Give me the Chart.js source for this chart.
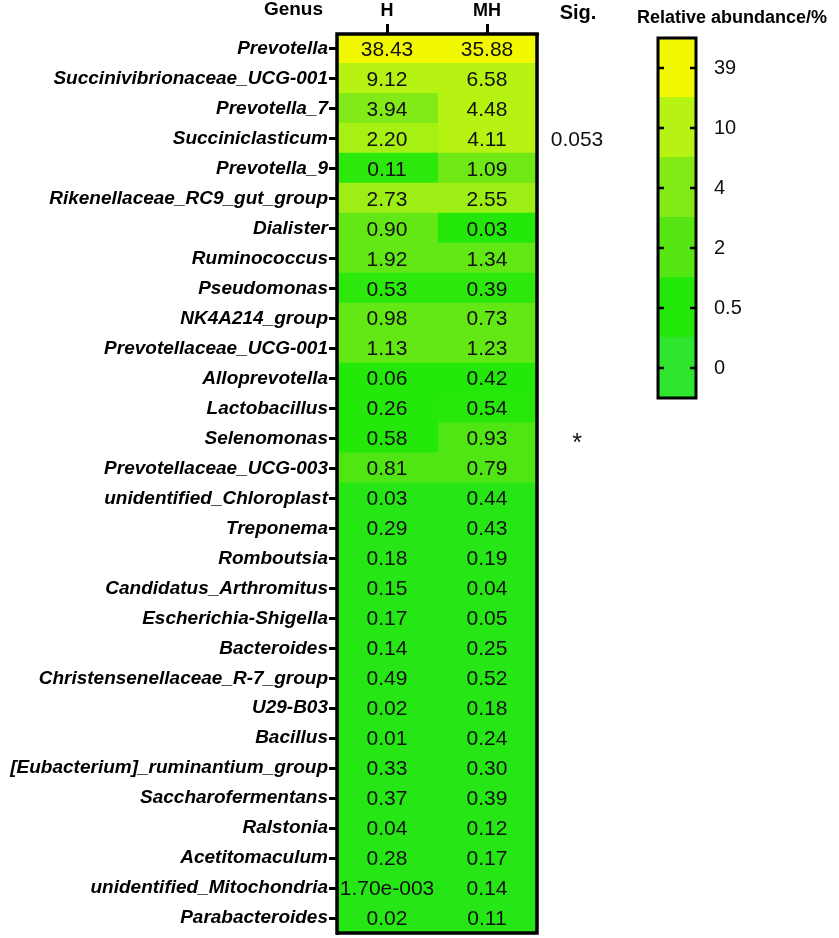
<!DOCTYPE html>
<html><head><meta charset="utf-8">
<script src="https://cdn.jsdelivr.net/npm/chart.js@4"></script>
<style>
html,body{margin:0;padding:0;background:#fff;}
#wrap{position:relative;width:839px;height:938px;overflow:hidden;}
</style></head><body>
<div id="wrap">
<canvas id="main" width="839" height="938" style="position:absolute;left:0;top:0"></canvas>
<canvas id="cbar" width="219" height="420" style="position:absolute;left:620px;top:0"></canvas>
</div>
<script>
const genera = ['Prevotella','Succinivibrionaceae_UCG-001','Prevotella_7','Succiniclasticum','Prevotella_9','Rikenellaceae_RC9_gut_group','Dialister','Ruminococcus','Pseudomonas','NK4A214_group','Prevotellaceae_UCG-001','Alloprevotella','Lactobacillus','Selenomonas','Prevotellaceae_UCG-003','unidentified_Chloroplast','Treponema','Romboutsia','Candidatus_Arthromitus','Escherichia-Shigella','Bacteroides','Christensenellaceae_R-7_group','U29-B03','Bacillus','[Eubacterium]_ruminantium_group','Saccharofermentans','Ralstonia','Acetitomaculum','unidentified_Mitochondria','Parabacteroides'];
const columns = ['H','MH'];
const hValues = [38.43,9.12,3.94,2.20,0.11,2.73,0.90,1.92,0.53,0.98,1.13,0.06,0.26,0.58,0.81,0.03,0.29,0.18,0.15,0.17,0.14,0.49,0.02,0.01,0.33,0.37,0.04,0.28,0.0017,0.02];
const mhValues = [35.88,6.58,4.48,4.11,1.09,2.55,0.03,1.34,0.39,0.73,1.23,0.42,0.54,0.93,0.79,0.44,0.43,0.19,0.04,0.05,0.25,0.52,0.18,0.24,0.30,0.39,0.12,0.17,0.14,0.11];
// colour level of each cell on the colour-bar scale (0 = bottom band, 5 = top band)
const hShade = [5,4,3,3.7,1.2,3.5,2.3,2.3,1.2,2.3,2.3,1,1,1,1.9,0.7,0.7,0.7,0.7,0.7,0.7,0.7,0.7,0.7,0.7,0.7,0.7,0.7,0.7,0.7];
const mhShade = [5,4,4,4,2.6,3.5,1,2.3,1.2,2.3,2.3,1,1.1,1.9,1.9,0.7,0.7,0.7,0.7,0.7,0.7,0.7,0.7,0.7,0.7,0.7,0.7,0.7,0.7,0.7];
const sigLabels = ['','','','0.053','','','','','','','','','','*','','','','','','','','','','','','','','','',''];
const legendTicks = ['0','0.5','2','4','10','39'];

const anchors = [[45,230,45],[35,232,10],[85,230,20],[130,234,22],[182,242,18],[242,248,0]];
function shadeColor(p){
  const i = Math.min(4, Math.floor(p)); const f = p - i;
  const a = anchors[i], b = anchors[i+1];
  const c = a.map((v,k)=>Math.round(v + (b[k]-v)*f));
  return `rgb(${c[0]},${c[1]},${c[2]})`;
}
function fmt(v){
  if (v < 0.01){
    const [m,e] = v.toExponential(2).split('e');
    const sign = e[0]==='-'?'-':'+';
    return m + 'e' + sign + String(Math.abs(+e)).padStart(3,'0');
  }
  return v.toFixed(2);
}
const FONT = "'Liberation Sans', Arial, sans-serif";

const textPlugin = {
  id:'cellText',
  afterDatasetsDraw(chart){
    const {ctx, scales:{x,y}} = chart;
    ctx.save();
    ctx.fillStyle = '#111';
    ctx.textAlign = 'center'; ctx.textBaseline = 'middle';
    const cols = [hValues, mhValues];
    genera.forEach((g,i)=>{
      const py = y.getPixelForValue(i);
      ctx.font = `21px ${FONT}`;
      cols.forEach((arr,c)=>{
        ctx.fillText(fmt(arr[i]), x.getPixelForValue(c+0.5), py+1);
      });
      if (sigLabels[i]){
        const star = sigLabels[i]==='*';
        ctx.font = `${star?25:21}px ${FONT}`;
        ctx.fillText(sigLabels[i], x.getPixelForValue(2)+40, py+(star?6:1));
      }
    });
    ctx.restore();
  },
  afterDraw(chart){
    const {ctx, chartArea:ca, scales:{x}} = chart;
    ctx.save();
    ctx.strokeStyle = '#000'; ctx.lineWidth = 3.5;
    ctx.strokeRect(ca.left, ca.top, ca.right-ca.left, ca.bottom-ca.top);
    ctx.fillStyle = '#000';
    ctx.font = `bold 19px ${FONT}`;
    ctx.textBaseline = 'middle';
    ctx.textAlign = 'right';
    ctx.fillText('Genus', ca.left-14, 10);
    ctx.textAlign = 'center';
    ctx.font = `bold 20px ${FONT}`;
    ctx.fillText('Sig.', x.getPixelForValue(2)+41, 13);
    ctx.restore();
  }
};

new Chart(document.getElementById('main'), {
  type:'bar',
  data:{
    labels: genera,
    datasets:[
      {label:columns[0], data: genera.map(()=>[0,1]), backgroundColor: hShade.map(shadeColor)},
      {label:columns[1], data: genera.map(()=>[1,2]), backgroundColor: mhShade.map(shadeColor)}
    ]
  },
  options:{
    indexAxis:'y', responsive:false, animation:false, devicePixelRatio:1,
    datasets:{bar:{barPercentage:1, categoryPercentage:1, grouped:false, borderWidth:0, inflateAmount:1}},
    layout:{padding:{left:0,right:302,top:0,bottom:5}},
    plugins:{legend:{display:false}, tooltip:{enabled:false}},
    scales:{
      y:{type:'category', offset:true, position:'left',
        grid:{drawOnChartArea:false, offset:false, tickLength:8, color:'#000', lineWidth:3},
        border:{display:true, color:'#000', width:3},
        ticks:{color:'#000', autoSkip:false, padding:1, font:{family:FONT, size:19, weight:'bold', style:'italic'}},
        afterFit(s){ s.width = 337; s.paddingTop = 0; s.paddingBottom = 0; }
      },
      x:{type:'linear', position:'top', min:0, max:2,
        afterBuildTicks(s){ s.ticks = columns.map((c,i)=>({value:i+0.5})); },
        ticks:{color:'#000', padding:2, font:{family:FONT, size:18, weight:'bold'}, callback:(v)=>columns[Math.floor(v)]},
        grid:{drawOnChartArea:false, tickLength:10, color:'#000', lineWidth:3},
        border:{display:true, color:'#000', width:3},
        afterFit(s){ s.height = 34; }
      }
    }
  },
  plugins:[textPlugin]
});

const cbarPlugin = {
  id:'cbarDeco',
  afterDraw(chart){
    const {ctx, chartArea:ca, scales:{y}} = chart;
    ctx.save();
    ctx.strokeStyle = '#000'; ctx.lineWidth = 3;
    ctx.strokeRect(ca.left, ca.top, ca.right-ca.left, ca.bottom-ca.top);
    ctx.lineWidth = 2.5;
    legendTicks.forEach((t,i)=>{
      const py = y.getPixelForValue(i+0.5);
      ctx.beginPath();
      ctx.moveTo(ca.left, py); ctx.lineTo(ca.left+6, py);
      ctx.moveTo(ca.right-6, py); ctx.lineTo(ca.right, py);
      ctx.stroke();
    });
    ctx.fillStyle = '#000';
    ctx.font = `bold 18px ${FONT}`;
    ctx.textAlign = 'center'; ctx.textBaseline = 'middle';
    ctx.fillText('Relative abundance/%', 112, 18);
    ctx.restore();
  }
};

new Chart(document.getElementById('cbar'), {
  type:'bar',
  data:{
    labels:[''],
    datasets: legendTicks.map((t,i)=>({label:t, data:[1], backgroundColor: shadeColor(i)}))
  },
  options:{
    responsive:false, animation:false, devicePixelRatio:1,
    datasets:{bar:{barPercentage:1, categoryPercentage:1, borderWidth:0, inflateAmount:1}},
    layout:{padding:{left:38,right:0,top:38,bottom:22}},
    plugins:{legend:{display:false}, tooltip:{enabled:false}},
    scales:{
      x:{display:false, stacked:true},
      y:{stacked:true, min:0, max:6, position:'right',
        afterBuildTicks(s){ s.ticks = legendTicks.map((t,i)=>({value:i+0.5})); },
        ticks:{color:'#111', padding:10, font:{family:FONT, size:20}, callback:(v)=>legendTicks[Math.floor(v)]},
        grid:{display:false},
        border:{display:false},
        afterFit(s){ s.width = 143; }
      }
    }
  },
  plugins:[cbarPlugin]
});
</script>
</body></html>
